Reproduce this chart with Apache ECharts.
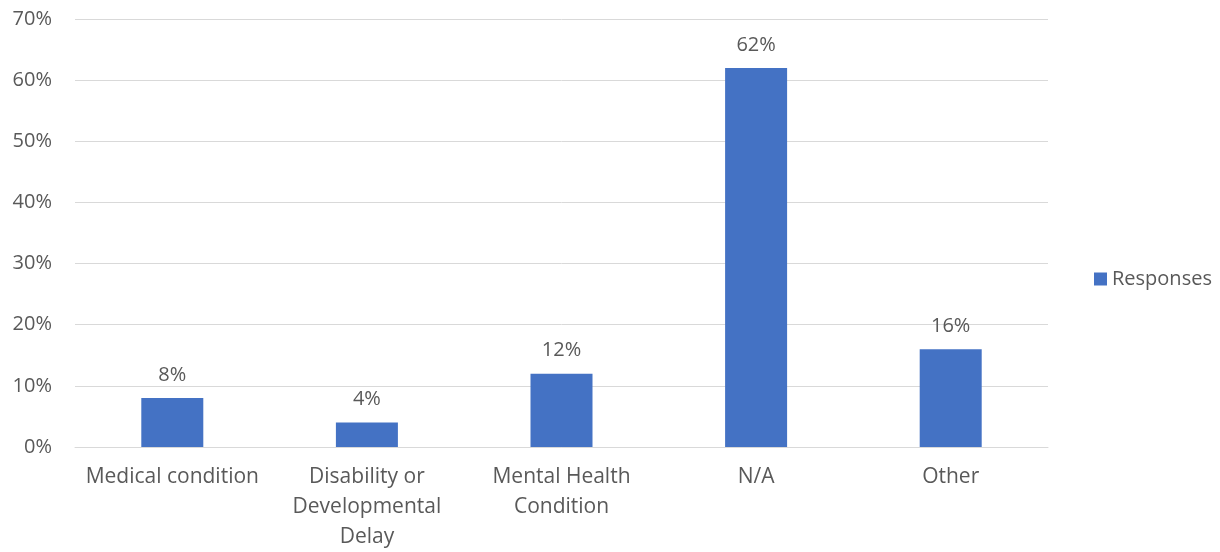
<!DOCTYPE html>
<html>
<head>
<meta charset="utf-8">
<script src="https://cdn.jsdelivr.net/npm/echarts@6/dist/echarts.min.js"></script>
<style>
  html, body { margin: 0; padding: 0; background: #fff; }
  #chart { width: 1220px; height: 552px; }
</style>
</head>
<body>
<div id="chart"></div>
<script>
var categories = ['Medical condition', 'Disability or\nDevelopmental\nDelay', 'Mental Health\nCondition', 'N/A', 'Other'];
var responses = [8, 4, 12, 62, 16];
var yTicks = [0, 10, 20, 30, 40, 50, 60, 70];

var textColor = '#595959';
var fontFamily = '"Open Sans", Lato, sans-serif';

var myChart = echarts.init(document.getElementById('chart'));
var option = {
  animation: false,
  textStyle: { fontFamily: fontFamily },
  grid: { left: 75, right: 172, top: 19, bottom: 102, containLabel: false },
  legend: {
    data: ['Responses'],
    orient: 'vertical',
    left: 1089,
    top: 264,
    itemWidth: 13,
    itemHeight: 13,
    itemGap: 6,
    icon: 'rect',
    textStyle: { color: textColor, fontSize: 20, fontFamily: fontFamily }
  },
  xAxis: {
    type: 'category',
    data: categories,
    axisLine: { lineStyle: { color: '#d9d9d9', width: 1 } },
    axisTick: { show: false },
    axisLabel: {
      color: textColor,
      fontSize: 21,
      lineHeight: 30,
      margin: 15,
      interval: 0,
      fontFamily: fontFamily
    }
  },
  yAxis: {
    type: 'value',
    min: 0,
    max: yTicks[yTicks.length - 1],
    interval: 10,
    axisLine: { show: false },
    axisTick: { show: false },
    splitLine: { lineStyle: { color: '#d9d9d9', width: 1 } },
    axisLabel: {
      color: textColor,
      fontSize: 20,
      margin: 23,
      fontFamily: fontFamily,
      formatter: function (v) { return v + '%'; }
    }
  },
  series: [
    {
      name: 'Responses',
      type: 'bar',
      data: responses,
      barWidth: 62,
      itemStyle: { color: '#4472C4' },
      label: {
        show: true,
        position: 'top',
        distance: 13,
        color: textColor,
        fontSize: 20,
        fontFamily: fontFamily,
        formatter: function (p) { return p.value + '%'; }
      }
    }
  ]
};
myChart.setOption(option);
</script>
</body>
</html>
